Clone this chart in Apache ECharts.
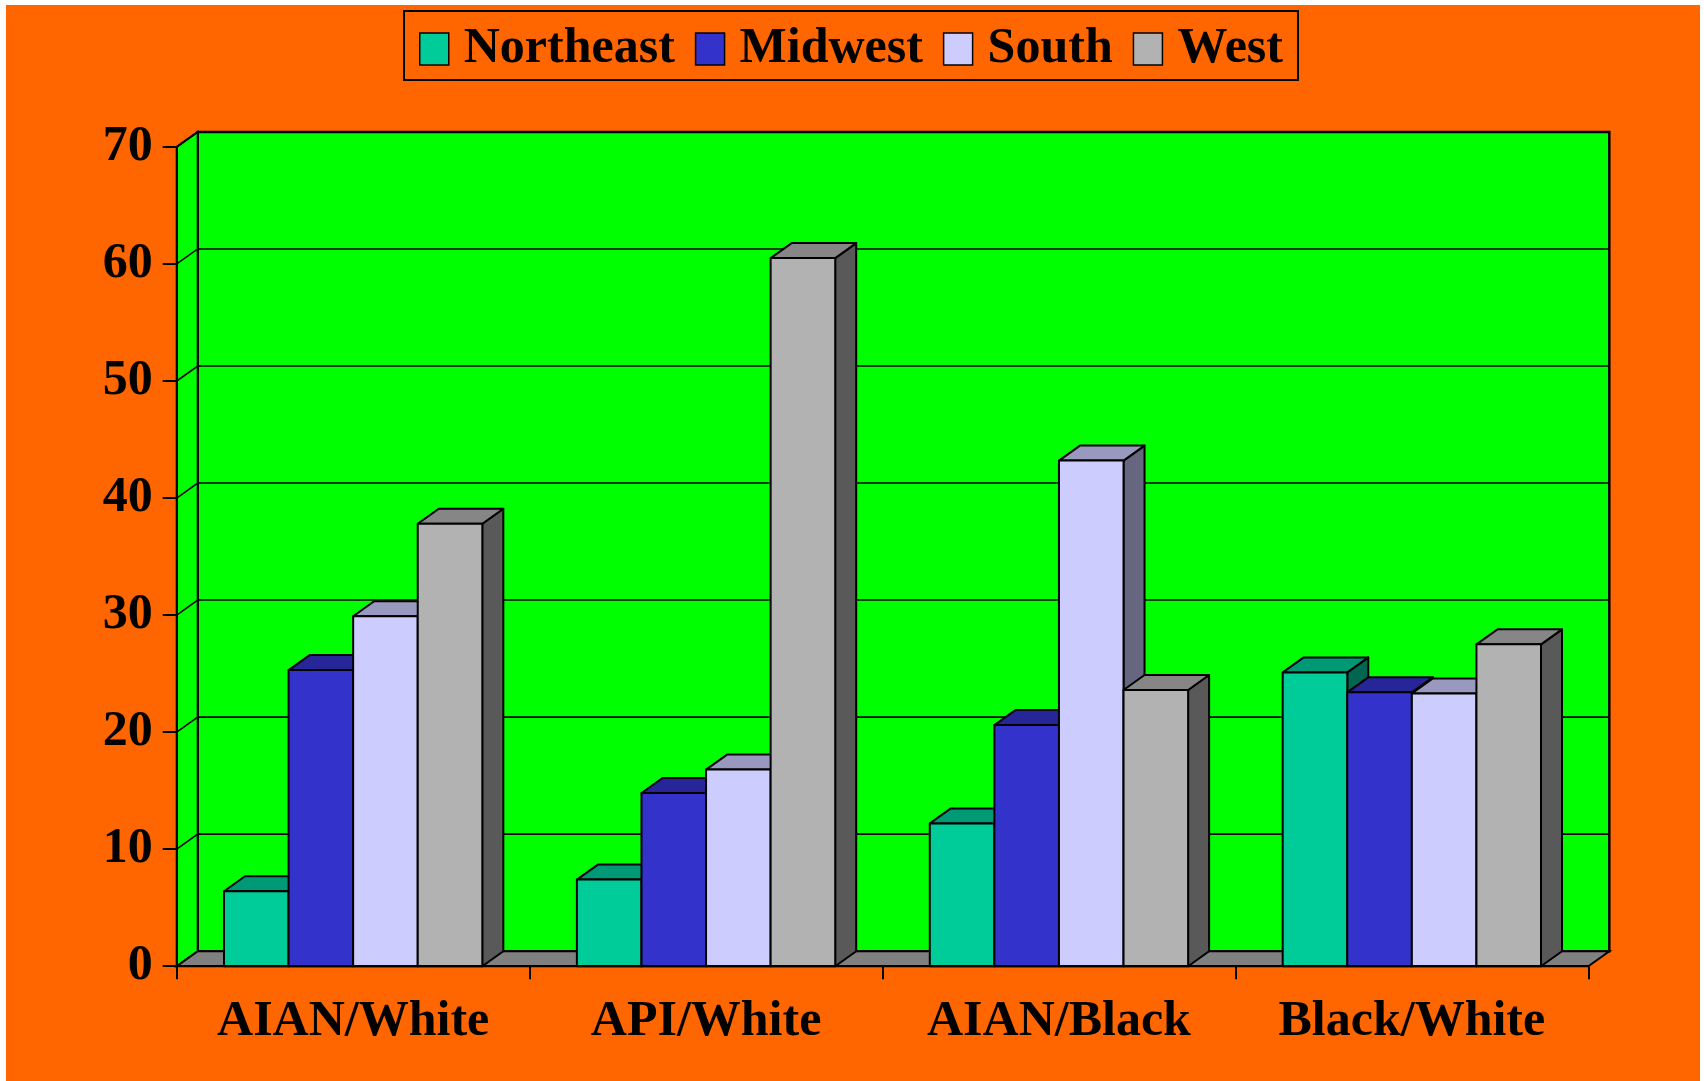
<!DOCTYPE html>
<html><head><meta charset="utf-8">
<script src="https://cdn.jsdelivr.net/npm/echarts@6/dist/echarts.min.js"></script>
<style>html,body{margin:0;padding:0;background:#fff;}#c{position:absolute;left:6px;top:5px;width:1694px;height:1076px;}</style>
</head><body><div id="c"></div><script>
const categories = ['AIAN/White', 'API/White', 'AIAN/Black', 'Black/White'];
const regions = ['Northeast', 'Midwest', 'South', 'West'];
const northeast = [6.4, 7.4, 12.2, 25.1];
const midwest = [25.3, 14.8, 20.6, 23.4];
const south = [29.9, 16.8, 43.2, 23.3];
const west = [37.8, 60.5, 23.6, 27.5];
const yTicks = [0, 10, 20, 30, 40, 50, 60, 70];

const seriesValues = [northeast, midwest, south, west];
const frontColors = ['#00CC99', '#3333CC', '#CCCCFF', '#B2B2B2'];
const topColors = ['#009975', '#262699', '#9999BF', '#868686'];
const sideColors = ['#006650', '#1A1A66', '#666680', '#595959'];
const DX = 21, DY = 15;
const FONT = '"Liberation Serif", "Times New Roman", serif';

function renderWalls(params, api) {
  const cs = params.coordSys;
  const x0 = cs.x, x1 = cs.x + cs.width, yT = cs.y, yB = cs.y + cs.height;
  const children = [];
  children.push({type: 'rect', shape: {x: x0 + DX, y: yT - DY, width: cs.width, height: cs.height},
    style: {fill: '#00FF00', stroke: '#000', lineWidth: 2.5}});
  children.push({type: 'polygon', shape: {points: [[x0, yT], [x0 + DX, yT - DY], [x0 + DX, yB - DY], [x0, yB]]},
    style: {fill: '#00FF00', stroke: '#000', lineWidth: 2}});
  children.push({type: 'polygon', shape: {points: [[x0, yB], [x0 + DX, yB - DY], [x1 + DX, yB - DY], [x1, yB]]},
    style: {fill: '#808080', stroke: '#000', lineWidth: 2}});
  yTicks.forEach(function (v) {
    const y = api.coord([0, v])[1];
    children.push({type: 'polyline', shape: {points: [[x0, y], [x0 + DX, y - DY], [x1 + DX, y - DY]]},
      style: {fill: null, stroke: '#000', lineWidth: 1.6}});
  });
  return {type: 'group', children: children};
}

function makeBarRenderer(i) {
  return function (params, api) {
    const c = api.value(0), v = api.value(1);
    const catW = api.size([1, 0])[0];
    const bw = catW * 0.183;
    const base = api.coord([c, 0]);
    const top = api.coord([c, v]);
    const xL = base[0] - 2 * bw + i * bw, xR = xL + bw;
    const yB = base[1], yT = top[1];
    const st = {stroke: '#000', lineWidth: 2, lineJoin: 'round'};
    return {type: 'group', children: [
      {type: 'polygon', shape: {points: [[xR, yT], [xR + DX, yT - DY], [xR + DX, yB - DY], [xR, yB]]},
        style: Object.assign({fill: sideColors[i]}, st)},
      {type: 'polygon', shape: {points: [[xL, yT], [xL + DX, yT - DY], [xR + DX, yT - DY], [xR, yT]]},
        style: Object.assign({fill: topColors[i]}, st)},
      {type: 'rect', shape: {x: xL, y: yT, width: bw, height: yB - yT},
        style: Object.assign({fill: frontColors[i]}, st)}
    ]};
  };
}

const series = [{
  type: 'custom', name: '_walls', silent: true, z: 1,
  renderItem: renderWalls, data: [[0, 0]], encode: {x: 0, y: 1}
}];
regions.forEach(function (r, i) {
  series.push({
    type: 'custom', name: r, z: 2,
    itemStyle: {color: frontColors[i]},
    renderItem: makeBarRenderer(i),
    encode: {x: 0, y: 1},
    data: categories.map(function (c, j) { return [j, seriesValues[i][j]]; })
  });
});

const chart = echarts.init(document.getElementById('c'), null, {renderer: 'canvas'});
chart.setOption({
  animation: false,
  backgroundColor: '#FF6600',
  legend: {
    left: 398, top: 6,
    padding: [13, 15, 6, 15],
    itemGap: 20, itemWidth: 29, itemHeight: 32,
    borderColor: '#000', borderWidth: 2,
    textStyle: {fontSize: 50, fontWeight: 'bold', fontFamily: FONT, color: '#000', padding: [10, 0, 0, 10]},
    data: regions.map(function (r, i) {
      return {name: r, icon: 'rect', itemStyle: {color: frontColors[i], borderColor: '#000', borderWidth: 1.5}};
    })
  },
  grid: {left: 170.7, right: 111.7, top: 141.9, bottom: 114.8, containLabel: false},
  xAxis: {
    type: 'category', data: categories, z: 5,
    axisLine: {show: true, lineStyle: {color: '#000', width: 2}},
    axisTick: {show: true, length: 13, interval: 0, lineStyle: {color: '#000', width: 2}},
    axisLabel: {interval: 0, margin: 56, verticalAlign: 'middle', fontSize: 50, fontWeight: 'bold', fontFamily: FONT, color: '#000'},
    splitLine: {show: false}
  },
  yAxis: {
    type: 'value', min: 0, max: 70, interval: 10, z: 5,
    axisLine: {show: true, lineStyle: {color: '#000', width: 2}},
    axisTick: {show: true, length: 14, lineStyle: {color: '#000', width: 2}},
    axisLabel: {margin: 24, fontSize: 50, fontWeight: 'bold', fontFamily: FONT, color: '#000'},
    splitLine: {show: false}
  },
  series: series
});
</script></body></html>
